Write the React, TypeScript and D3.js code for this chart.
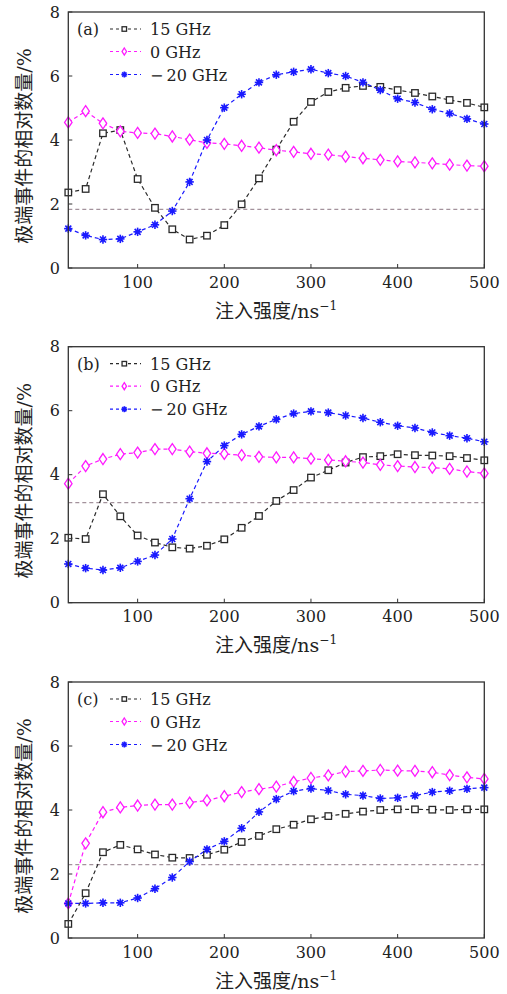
import React from "react";
import * as d3 from "d3";

const injection = [20, 40, 60, 80, 100, 120, 140, 160, 180, 200, 220, 240, 260, 280, 300, 320, 340, 360, 380, 400, 420, 440, 460, 480, 500];

const aGHz15 = [2.36, 2.47, 4.21, 4.31, 2.78, 1.88, 1.21, 0.89, 1.01, 1.34, 1.99, 2.8, 3.7, 4.57, 5.19, 5.5, 5.63, 5.69, 5.66, 5.56, 5.47, 5.36, 5.25, 5.16, 5.02];
const aGHz0 = [4.55, 4.9, 4.52, 4.27, 4.22, 4.2, 4.11, 4.01, 3.91, 3.88, 3.82, 3.76, 3.68, 3.63, 3.57, 3.54, 3.48, 3.43, 3.38, 3.33, 3.3, 3.27, 3.23, 3.2, 3.18];
const aGHzM20 = [1.23, 1.02, 0.89, 0.91, 1.13, 1.35, 1.78, 2.69, 4.0, 5.01, 5.43, 5.8, 6.04, 6.13, 6.21, 6.09, 6.0, 5.8, 5.56, 5.29, 5.17, 4.96, 4.83, 4.66, 4.5];

const bGHz15 = [2.03, 1.99, 3.39, 2.7, 2.1, 1.88, 1.73, 1.69, 1.78, 1.98, 2.34, 2.71, 3.18, 3.52, 3.91, 4.14, 4.38, 4.55, 4.58, 4.64, 4.61, 4.6, 4.58, 4.52, 4.45];
const bGHz0 = [3.72, 4.27, 4.49, 4.64, 4.69, 4.8, 4.8, 4.72, 4.67, 4.65, 4.61, 4.56, 4.54, 4.54, 4.5, 4.46, 4.42, 4.38, 4.31, 4.27, 4.24, 4.22, 4.18, 4.1, 4.04];
const bGHzM20 = [1.21, 1.08, 1.02, 1.09, 1.29, 1.49, 1.99, 3.25, 4.41, 4.91, 5.26, 5.51, 5.73, 5.91, 5.98, 5.94, 5.85, 5.77, 5.64, 5.53, 5.46, 5.32, 5.22, 5.14, 5.03];

const cGHz15 = [0.44, 1.4, 2.68, 2.91, 2.77, 2.61, 2.51, 2.5, 2.6, 2.76, 3.0, 3.19, 3.4, 3.54, 3.71, 3.81, 3.88, 3.95, 4.0, 4.02, 4.02, 4.01, 4.0, 4.02, 4.02];
const cGHz0 = [1.08, 2.96, 3.93, 4.08, 4.14, 4.17, 4.17, 4.23, 4.3, 4.43, 4.56, 4.65, 4.73, 4.88, 5.0, 5.08, 5.2, 5.22, 5.25, 5.23, 5.22, 5.18, 5.09, 5.02, 4.97];
const cGHzM20 = [1.08, 1.08, 1.1, 1.1, 1.25, 1.54, 1.89, 2.39, 2.77, 3.02, 3.43, 3.94, 4.34, 4.59, 4.67, 4.61, 4.49, 4.45, 4.36, 4.38, 4.45, 4.56, 4.6, 4.66, 4.7];

const thresholds = [1.83, 3.125, 2.29];
const panelLabels = ["(a)", "(b)", "(c)"];
const seriesNames = ["15 GHz", "0 GHz", "\u2212\u200920 GHz"];
const xTicks = [100, 200, 300, 400, 500];
const yTicks = [0, 2, 4, 6, 8];
const yLabel = "极端事件的相对数量/%";
const xLabelMain = "注入强度/ns";
const xLabelSup = "\u22121";

const panels = [
  [aGHz15, aGHz0, aGHzM20],
  [bGHz15, bGHz0, bGHzM20],
  [cGHz15, cGHz0, cGHzM20],
];

const colors = ["#2a2a2a", "#ff1aff", "#1a1aff"];
const serif = "'DejaVu Serif', serif";
const cjk = "'DejaVu Serif', 'Noto Sans CJK SC', serif";

const W = 507;
const H = 994;
const left = 68.3;
const right = 484.3;
const plotH = 256;
const tops = [12, 346.7, 682];

function Square({ x, y, s, color }: { x: number; y: number; s: number; color: string }) {
  return <rect x={x - s / 2} y={y - s / 2} width={s} height={s} fill="white" stroke={color} strokeWidth={1.3} />;
}
function Diamond({ x, y, w, h, color }: { x: number; y: number; w: number; h: number; color: string }) {
  return (
    <path
      d={`M${x},${y - h / 2}L${x + w / 2},${y}L${x},${y + h / 2}L${x - w / 2},${y}Z`}
      fill="white"
      stroke={color}
      strokeWidth={1.3}
    />
  );
}
function Star({ x, y, r, color }: { x: number; y: number; r: number; color: string }) {
  const spokes = [0, 45, 90, 135];
  return (
    <g>
      {spokes.map((a) => {
        const rad = (a * Math.PI) / 180;
        const dx = Math.cos(rad) * r;
        const dy = Math.sin(rad) * r;
        return <line key={a} x1={x - dx} y1={y - dy} x2={x + dx} y2={y + dy} stroke={color} strokeWidth={1.6} />;
      })}
      <circle cx={x} cy={y} r={r * 0.55} fill={color} />
    </g>
  );
}

function Marker({ i, x, y, small }: { i: number; x: number; y: number; small?: boolean }) {
  const c = colors[i];
  if (i === 0) return <Square x={x} y={y} s={small ? 4.5 : 6.5} color={c} />;
  if (i === 1) return <Diamond x={x} y={y} w={small ? 4.5 : 7.5} h={small ? 7 : 11} color={c} />;
  return <Star x={x} y={y} r={small ? 3 : 4.2} color={c} />;
}

function Panel({ idx }: { idx: number }) {
  const top = tops[idx];
  const x = d3.scaleLinear().domain([20, 500]).range([left, right]);
  const y = d3.scaleLinear().domain([0, 8]).range([top + plotH, top]);
  const data = panels[idx];
  const line = d3
    .line<number>()
    .x((_, k) => x(injection[k]))
    .y((v) => y(v));
  const legendRows = [23, 45.5, 68.5];
  return (
    <g>
      <defs>
        <clipPath id={`clip${idx}`}>
          <rect x={left} y={top} width={right - left} height={plotH} />
        </clipPath>
      </defs>
      <line
        x1={left}
        x2={right}
        y1={y(thresholds[idx])}
        y2={y(thresholds[idx])}
        stroke="#a3929c"
        strokeWidth={1.2}
        strokeDasharray="4,3"
      />
      <g clipPath={`url(#clip${idx})`}>
        {data.map((s, i) => (
          <path key={i} d={line(s) || ""} fill="none" stroke={colors[i]} strokeWidth={1.2} strokeDasharray="4,3" />
        ))}
      </g>
      {data.map((s, i) => (
        <g key={i}>
          {s.map((v, k) => (
            <Marker key={k} i={i} x={x(injection[k])} y={y(v)} />
          ))}
        </g>
      ))}
      <rect x={left} y={top} width={right - left} height={plotH} fill="none" stroke="#333" strokeWidth={1.3} />
      {xTicks.map((t) => (
        <g key={t}>
          <line x1={x(t)} x2={x(t)} y1={top + plotH} y2={top + plotH - 4} stroke="#333" strokeWidth={1} />
          <text x={x(t)} y={top + plotH + 19.6} textAnchor="middle" fontFamily={serif} fontSize={16} fill="#222">
            {t}
          </text>
        </g>
      ))}
      {yTicks.map((t) => (
        <g key={t}>
          <line x1={left} x2={left + 4} y1={y(t)} y2={y(t)} stroke="#333" strokeWidth={1} />
          <text x={60} y={y(t)} dy="0.36em" textAnchor="end" fontFamily={serif} fontSize={16} fill="#222">
            {t}
          </text>
        </g>
      ))}
      <text x={77} y={top + legendRows[0]} fontFamily={serif} fontSize={16} fill="#222">
        {panelLabels[idx]}
      </text>
      {seriesNames.map((n, i) => {
        const by = top + legendRows[i];
        const my = by - 6;
        return (
          <g key={n}>
            <line x1={110} x2={141} y1={my} y2={my} stroke={colors[i]} strokeWidth={1.2} strokeDasharray="3,3" />
            <Marker i={i} x={124.3} y={my} small />
            <text x={150} y={by} fontFamily={serif} fontSize={16} fill="#222">
              {n}
            </text>
          </g>
        );
      })}
      <text
        transform={`translate(31,${top + 134}) rotate(-90)`}
        textAnchor="middle"
        fontFamily={cjk}
        fontSize={19}
        fill="#222"
      >
        {yLabel}
      </text>
      <text x={276} y={top + plotH + 49.5} textAnchor="middle" fontFamily={cjk} fontSize={19} fill="#222">
        {xLabelMain}
        <tspan dy={-8} fontSize={12} fontFamily={serif}>
          {xLabelSup}
        </tspan>
      </text>
    </g>
  );
}

export default function App() {
  return (
    <svg
      width={W}
      height={H}
      viewBox={`0 0 ${W} ${H}`}
      style={{ position: "absolute", left: 0, top: 0, background: "white" }}
    >
      <rect x={0} y={0} width={W} height={H} fill="white" />
      {[0, 1, 2].map((i) => (
        <Panel key={i} idx={i} />
      ))}
    </svg>
  );
}
